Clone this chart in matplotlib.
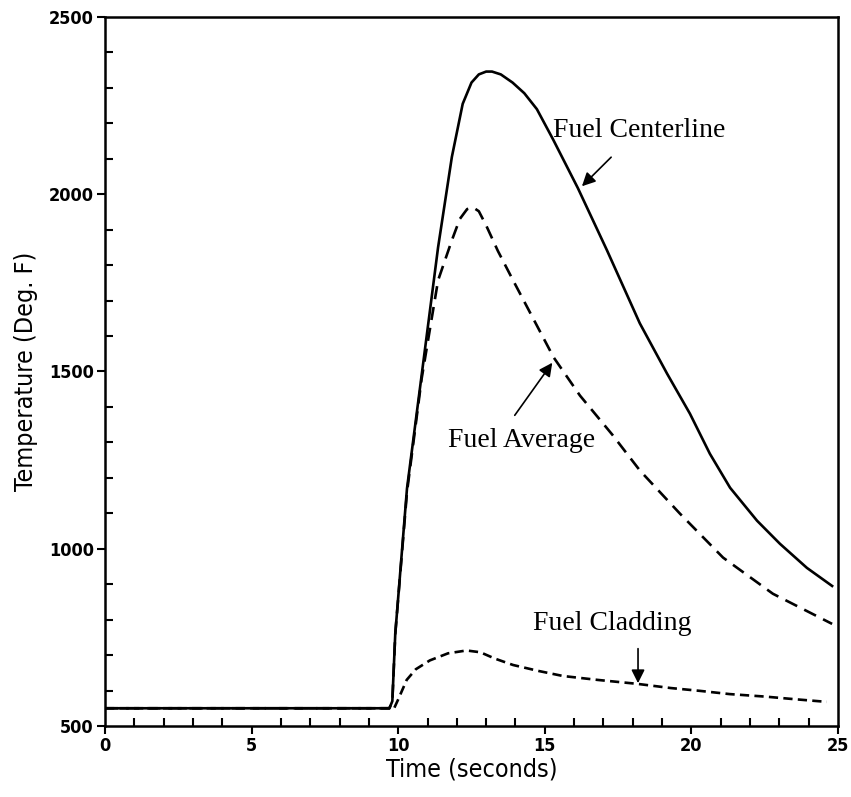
import numpy as np
import matplotlib.pyplot as plt
from matplotlib.ticker import MultipleLocator

# -----------------------------
# DATA
# -----------------------------
t_center = [0, 9.7, 9.8, 9.9, 10.3, 10.8, 11.36, 11.83, 12.2, 12.5, 12.75,
            13.0, 13.2, 13.5, 13.9, 14.3, 14.73, 15.28, 16.13, 17.12,
            18.24, 19.17, 19.95, 20.63, 21.32, 22.24, 23.02, 23.94, 24.8]
T_center = [550, 550, 570, 760, 1170, 1490, 1850, 2105, 2255, 2315, 2338,
            2346, 2346, 2338, 2315, 2285, 2240, 2155, 2017, 1842,
            1636, 1494, 1381, 1268, 1172, 1079, 1014, 946, 895]

t_avg = [0, 9.7, 9.8, 9.9, 10.3, 10.8, 11.36, 11.83, 12.1, 12.35, 12.55,
         12.75, 13.0, 13.4, 13.9, 14.6, 15.3, 16.2, 17.3, 18.25, 19.61,
         21.08, 22.78, 24.8]
T_avg = [550, 550, 570, 760, 1160, 1480, 1757, 1870, 1930, 1958, 1963,
         1952, 1912, 1840, 1760, 1650, 1540, 1432, 1322, 1220, 1099,
         975, 873, 788]

t_clad = [0, 9.7, 9.85, 10.0, 10.29, 10.6, 11.08, 11.7, 12.33, 12.8, 13.3,
          13.92, 14.8, 15.62, 16.8, 18.14, 19.3, 20.3, 21.3, 22.5, 23.6, 24.62]
T_clad = [550, 550, 548, 575, 630, 660, 685, 705, 713, 708, 690,
          672, 655, 641, 630, 619, 607, 599, 590, 583, 575, 568]

xticks = [0, 5, 10, 15, 20, 25]
yticks = [500, 1000, 1500, 2000, 2500]

# -----------------------------
# PLOT
# -----------------------------
fig = plt.figure(figsize=(8.51, 7.97), dpi=100)
ax = fig.add_axes([0.1234, 0.0891, 0.9847 - 0.1234, 0.9787 - 0.0891])

ax.plot(t_center, T_center, color='black', lw=1.9)
ax.plot(t_avg, T_avg, color='black', lw=1.9, dashes=(5, 3))
ax.plot(t_clad, T_clad, color='black', lw=1.9, dashes=(3.5, 2))

ax.set_xlim(0, 25)
ax.set_ylim(500, 2500)
ax.set_xticks(xticks)
ax.set_yticks(yticks)
ax.xaxis.set_minor_locator(MultipleLocator(1))
ax.yaxis.set_minor_locator(MultipleLocator(100))

tick_font = dict(family='DejaVu Sans', stretch='condensed', weight='bold', size=13)
ax.set_xticklabels([str(v) for v in xticks], fontdict=tick_font)
ax.set_yticklabels([str(v) for v in yticks], fontdict=tick_font)

ax.tick_params(which='major', direction='out', length=6, width=1.5, pad=2)
ax.tick_params(which='minor', direction='in', length=6, width=1.5)
ax.tick_params(top=False, right=False, which='both')
for s in ax.spines.values():
    s.set_linewidth(1.8)

label_font = dict(family='DejaVu Sans', stretch='condensed', size=18)
ax.set_xlabel("Time (seconds)", fontdict=label_font, labelpad=2)
ax.set_ylabel("Temperature (Deg. F)", fontdict=label_font, labelpad=8)

# -----------------------------
# ANNOTATIONS
# -----------------------------
ann_font = dict(family=['Liberation Serif', 'DejaVu Serif'], size=20)
arrow = dict(arrowstyle='-|>', color='black', lw=1.2, mutation_scale=20)

ax.text(15.28, 2181, "Fuel Centerline", ha='left', va='center', **ann_font)
ax.annotate("", xy=(16.2, 2017), xytext=(17.33, 2110), arrowprops=arrow)

ax.text(14.22, 1305, "Fuel Average", ha='center', va='center', **ann_font)
ax.annotate("", xy=(15.31, 1531), xytext=(13.92, 1370), arrowprops=arrow)

ax.text(17.3, 788, "Fuel Cladding", ha='center', va='center', **ann_font)
ax.annotate("", xy=(18.18, 613), xytext=(18.18, 726), arrowprops=arrow)

plt.savefig("out.png", dpi=100)
